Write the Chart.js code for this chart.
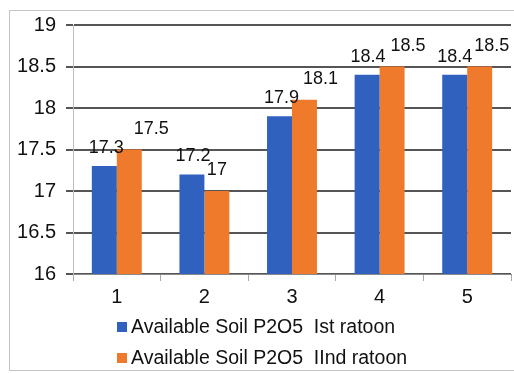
<!DOCTYPE html>
<html>
<head>
<meta charset="utf-8">
<script src="https://cdn.jsdelivr.net/npm/chart.js@4"></script>
<style>
  html, body { margin: 0; padding: 0; background: #fff; }
  #wrap { position: relative; width: 514px; height: 373px; overflow: hidden; font-family: "Liberation Sans", Arial, sans-serif; }
  #frame { position: absolute; left: 9px; top: 10px; width: 520px; height: 361px; border: 1px solid #c4c4c4; box-sizing: border-box; }
  #c { position: absolute; left: 0; top: 0; }
  #legend { position: absolute; left: 117px; top: 311px; font-size: 19.5px; color: #111; }
  .row { display: flex; align-items: center; height: 31px; white-space: pre; }
  .sw { width: 10px; height: 10px; margin-right: 4px; }
</style>
</head>
<body>
<div id="wrap">
  <div id="frame"></div>
  <canvas id="c" width="514" height="373"></canvas>
  <div id="legend"></div>
</div>
<script>
const categories = ["1", "2", "3", "4", "5"];
const seriesNames = ["Available Soil P2O5  Ist ratoon", "Available Soil P2O5  IInd ratoon"];
const istRatoon = [17.3, 17.2, 17.9, 18.4, 18.4];
const iindRatoon = [17.5, 17.0, 18.1, 18.5, 18.5];
const yTicks = [16, 16.5, 17, 17.5, 18, 18.5, 19];

const colors = ["#3161BF", "#F07A2B"];
const labelDx = [[2, 1, 2, 1, 0], [22, 0, 16, 16, 12]];
const labelDy = [13, 16];

const labelPlugin = {
  id: 'barLabels',
  afterDatasetsDraw(chart) {
    const ctx = chart.ctx;
    ctx.save();
    ctx.font = '18px "Liberation Sans", Arial, sans-serif';
    ctx.fillStyle = '#111';
    ctx.textAlign = 'center';
    ctx.textBaseline = 'alphabetic';
    chart.data.datasets.forEach((ds, di) => {
      const meta = chart.getDatasetMeta(di);
      meta.data.forEach((bar, i) => {
        ctx.fillText(String(ds.data[i]), bar.x + labelDx[di][i], bar.y - labelDy[di]);
      });
    });
    ctx.restore();
  }
};

const chart = new Chart(document.getElementById('c'), {
  type: 'bar',
  data: {
    labels: categories,
    datasets: [
      { label: seriesNames[0], data: istRatoon, backgroundColor: colors[0] },
      { label: seriesNames[1], data: iindRatoon, backgroundColor: colors[1] }
    ]
  },
  options: {
    responsive: false,
    animation: false,
    devicePixelRatio: 1,
    layout: { padding: { top: 25, left: 0, right: 3, bottom: 59 } },
    datasets: { bar: { categoryPercentage: 0.57, barPercentage: 1.0 } },
    plugins: { legend: { display: false }, tooltip: { enabled: false } },
    scales: {
      x: {
        grid: { drawOnChartArea: false, drawTicks: true, tickLength: 7, color: '#a8a8a8', offset: true },
        border: { display: true, color: '#8a8a8a', width: 1 },
        ticks: { color: '#111', font: { family: '"Liberation Sans", Arial, sans-serif', size: 20 }, padding: 4 },
        afterFit(s) { s.height = 40; }
      },
      y: {
        min: 16, max: 19,
        afterBuildTicks(s) { s.ticks = yTicks.map(v => ({ value: v })); },
        grid: { color: '#555', lineWidth: 2, tickLength: 7, drawTicks: true },
        border: { display: true, color: '#bdbdbd', width: 1 },
        ticks: { color: '#111', font: { family: '"Liberation Sans", Arial, sans-serif', size: 20 }, padding: 10,
          callback: (v) => String(v) },
        afterFit(s) { s.width = 73; }
      }
    }
  },
  plugins: [labelPlugin]
});

const leg = document.getElementById('legend');
chart.data.datasets.forEach((ds) => {
  const row = document.createElement('div');
  row.className = 'row';
  const sw = document.createElement('span');
  sw.className = 'sw';
  sw.style.background = ds.backgroundColor;
  const tx = document.createElement('span');
  tx.textContent = ds.label;
  row.appendChild(sw); row.appendChild(tx);
  leg.appendChild(row);
});
</script>
</body>
</html>
